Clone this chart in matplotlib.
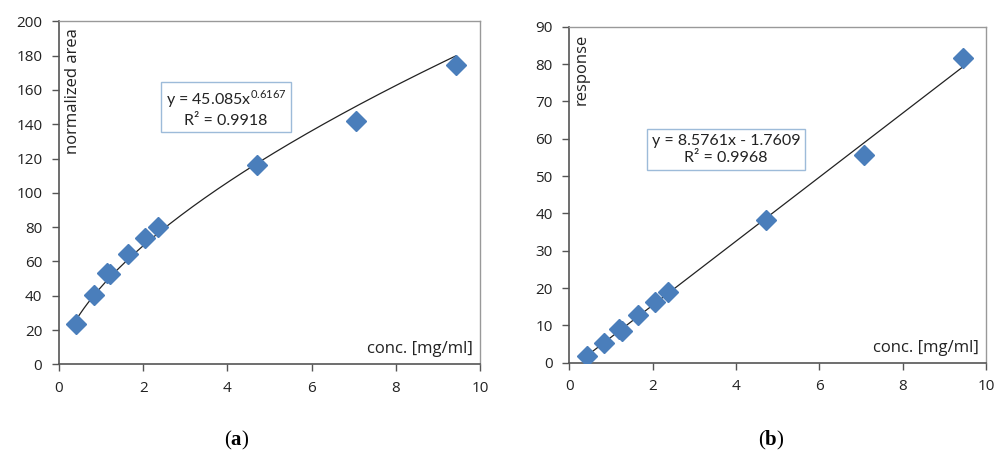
import matplotlib
matplotlib.use("Agg")
import numpy as np
import matplotlib.pyplot as plt

# data
conc_a = [0.41, 0.82, 1.15, 1.22, 1.63, 2.04, 2.34, 4.71, 7.06, 9.42]
area_a = [23.3, 40.4, 53.5, 52.8, 64.3, 73.8, 79.9, 116.2, 142.0, 174.5]

conc_b = [0.43, 0.84, 1.19, 1.26, 1.66, 2.06, 2.36, 4.71, 7.08, 9.45]
resp_b = [1.9, 5.4, 8.9, 8.5, 12.7, 16.2, 18.9, 38.2, 55.5, 81.6]

# trendline coefficients (as printed in the boxes)
pow_coef, pow_exp = 45.085, 0.6167
lin_slope, lin_icept = 8.5761, -1.7609

plt.rcParams['font.family'] = ['Open Sans', 'DejaVu Sans']
plt.rcParams['mathtext.fontset'] = 'custom'
plt.rcParams['mathtext.rm'] = 'Lato'
plt.rcParams['mathtext.bf'] = 'Liberation Serif:bold'

marker_col = '#4a7ebb'
box_col = '#9dbbd9'
tick_col = '#222222'

fig = plt.figure(figsize=(9.97, 4.54), dpi=100)
W, H = 997, 454
ax_a = fig.add_axes([59 / W, 1 - 364.3 / H, 421 / W, 343 / H])
ax_b = fig.add_axes([569.3 / W, 1 - 362.7 / H, 416.7 / W, 336 / H])


def style(ax, ymax, ystep):
    ax.set_xlim(0, 10)
    ax.set_ylim(0, ymax)
    ax.set_xticks(np.arange(0, 11, 2))
    ax.set_yticks(np.arange(0, ymax + 1, ystep))
    ax.tick_params(direction='out', length=5, width=1, labelsize=11,
                   colors='#555555', labelcolor=tick_col)
    ax.tick_params(axis='y', pad=7)
    ax.tick_params(axis='x', pad=7)
    for side in ['left', 'bottom']:
        ax.spines[side].set_color('#555555')
        ax.spines[side].set_linewidth(1.2)
    for side in ['top', 'right']:
        ax.spines[side].set_color('#999999')
        ax.spines[side].set_linewidth(1.0)


# ── (a) power fit ────────────────────────────────────────────────────────
style(ax_a, 200, 20)
xf = np.linspace(min(conc_a), max(conc_a), 200)
ax_a.plot(xf, pow_coef * xf ** pow_exp, color='#222222', lw=0.9, zorder=2)
ax_a.plot(conc_a, area_a, 'D', color=marker_col, ms=10, mec=marker_col, zorder=3)
ax_a.text(0.015, 0.98, 'normalized area', rotation=90, transform=ax_a.transAxes,
          ha='left', va='top', fontsize=12, color=tick_col)
ax_a.text(0.984, 0.02, 'conc. [mg/ml]', transform=ax_a.transAxes,
          ha='right', va='bottom', fontsize=12, color=tick_col)
ax_a.text(3.97, 149.4, 'y = 45.085x$^{0.6167}$\nR² = 0.9918', family='Lato',
          ha='center', va='center', fontsize=11.5, color=tick_col,
          linespacing=1.3,
          bbox=dict(boxstyle='square,pad=0.3', fc='white', ec=box_col, lw=1.0))

# ── (b) linear fit ───────────────────────────────────────────────────────
style(ax_b, 90, 10)
xf = np.linspace(min(conc_b), max(conc_b), 2)
ax_b.plot(xf, lin_slope * xf + lin_icept, color='#222222', lw=0.9, zorder=2)
ax_b.plot(conc_b, resp_b, 'D', color=marker_col, ms=10, mec=marker_col, zorder=3)
ax_b.text(0.01, 0.98, 'response', rotation=90, transform=ax_b.transAxes,
          ha='left', va='top', fontsize=12, color=tick_col)
ax_b.text(0.984, 0.02, 'conc. [mg/ml]', transform=ax_b.transAxes,
          ha='right', va='bottom', fontsize=12, color=tick_col)
ax_b.text(3.76, 57.2, 'y = 8.5761x - 1.7609\nR² = 0.9968', family='Lato',
          ha='center', va='center', fontsize=11.5, color=tick_col,
          linespacing=1.3,
          bbox=dict(boxstyle='square,pad=0.3', fc='white', ec=box_col, lw=1.0))

# panel labels
fig.text(237 / W, 1 - 440 / H, r'($\mathbf{a}$)', family='Liberation Serif',
         ha='center', va='center', fontsize=15)
fig.text(771 / W, 1 - 440 / H, r'($\mathbf{b}$)', family='Liberation Serif',
         ha='center', va='center', fontsize=15)

fig.savefig('out.png', dpi=100)
